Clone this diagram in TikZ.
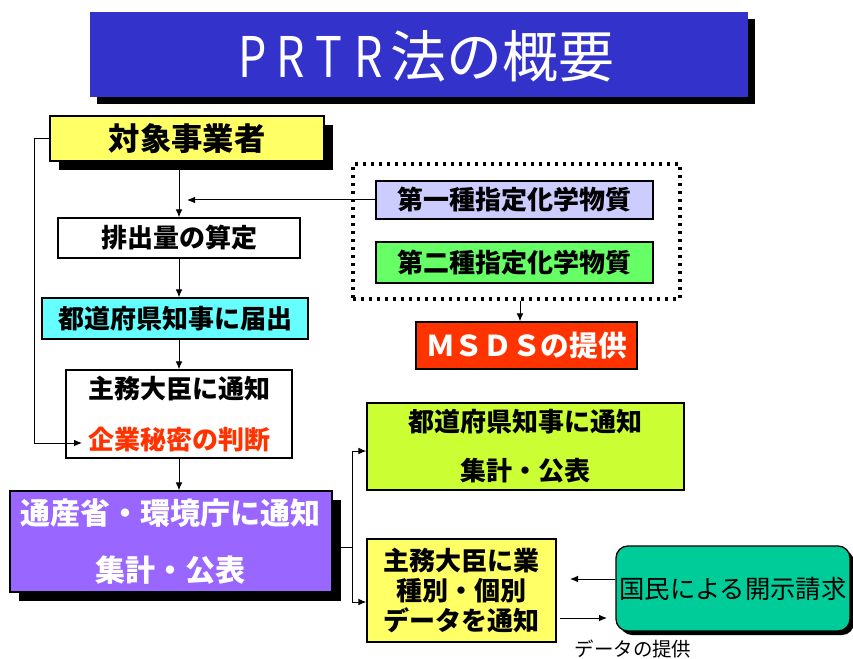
\documentclass[tikz,border=0pt]{standalone}
\usepackage{fontspec}
\usepackage{graphicx}
\setmainfont{Noto Sans CJK JP}
\usetikzlibrary{arrows.meta,shadows,calc}
\definecolor{titleblue}{HTML}{3333CC}
\definecolor{yel}{HTML}{FFFF66}
\definecolor{cyanb}{HTML}{66FFFF}
\definecolor{purp}{HTML}{9966FF}
\definecolor{lav}{HTML}{CCCCFF}
\definecolor{grn}{HTML}{66FF66}
\definecolor{redo}{HTML}{FF3300}
\definecolor{lime}{HTML}{CCFF33}
\definecolor{teal2}{HTML}{00CC99}
\newcommand{\tlet}[1]{\makebox[29pt][l]{\scalebox{0.8}[1]{#1}}}
\begin{document}
\begin{tikzpicture}[x=0.75pt,y=-0.75pt,
  box/.style={draw=black, line width=1pt, inner sep=0pt, align=center},
  sz/.style 2 args={minimum width=#1*0.75pt, minimum height=#2*0.75pt},
  shad/.style={general shadow={fill=black, shadow xshift=#1, shadow yshift=-#1}},
  fnt/.style={font=\fontsize{19.5}{#1}\selectfont\bfseries},
  arr/.style={line width=0.75pt, -{Latex[length=6pt,width=5pt]}},
  ln/.style={line width=0.75pt},
  grpbox/.style={draw=black, line width=2.5pt, dash pattern=on 2.4pt off 3.6pt, inner sep=0pt}]
\useasboundingbox (0,0) rectangle (853,659);

% title
\node[inner sep=0pt, fill=titleblue, sz={658}{85}, shad=5pt] (title) at (419,54.5) {};
\node[inner sep=0pt, text=white, font=\fontsize{42}{46}\selectfont] (titletext) at (426,56)
  {\tlet{P}\tlet{R}\tlet{T}\makebox[27pt][l]{\scalebox{0.8}[1]{R}}法の概要};

% left column
\node[box, fill=yel, sz={274}{45}, shad=6.5pt, font=\fontsize{23.5}{26}\selectfont\bfseries] (obj) at (187,138.5) {対象事業者};
\node[box, fill=white, sz={242}{40}, fnt=22] (calc) at (179,238) {排出量の算定};
\node[box, fill=cyanb, sz={266}{41}, fnt=22] (notify) at (175,318.5) {都道府県知事に届出};
\node[box, fill=white, sz={226}{88}, fnt=38] (minister) at (179,414) {主務大臣に通知\\\textcolor{redo}{企業秘密の判断}};
\node[box, fill=purp, sz={322}{101}, shad=6.5pt, text=white, font=\fontsize{22.5}{43}\selectfont\bfseries] (purple) at (171,541.5) {通産省・環境庁に通知\\集計・公表};

% chemicals
\node[grpbox, sz={327}{135}] (grp) at (516.5,231.5) {};
\node[box, fill=lav, sz={277}{38}, fnt=22] (chem1) at (514.5,200) {第一種指定化学物質};
\node[box, fill=grn, sz={277}{41}, fnt=22] (chem2) at (514.5,262.5) {第二種指定化学物質};
\node[box, fill=redo, sz={221}{47}, text=white, font=\fontsize{21.5}{24}\selectfont\bfseries] (msds) at (526.5,345.5) {ＭＳＤＳの提供};

% right lower
\node[box, fill=lime, sz={317}{87}, fnt=37] (pref) at (525.5,446.5) {都道府県知事に通知\\集計・公表};
\node[box, fill=yel, sz={189}{103}, fnt=22.5] (ind) at (461.5,590.5) {主務大臣に業\\種別・個別\\データを通知};
\node[box, fill=teal2, sz={234}{85}, rounded corners=9pt, shad=3pt, font=\fontsize{19}{22}\selectfont] (public) at (733,588.5) {国民による開示請求};
\node[inner sep=0pt, font=\fontsize{14.6}{16}\selectfont] (datalbl) at (633,649) {データの提供};

% connectors
\draw[arr] (calc.north |- obj.south) -- (calc.north);
\coordinate (j1) at (187,200);
\draw[arr] (chem1.west) -- (j1);
\draw[arr] (calc.south) -- (calc.south |- notify.north);
\draw[arr] (minister.north |- notify.south) -- (minister.north);
\draw[arr] (minister.south) -- (minister.south |- purple.north);
\coordinate (fbL) at (34,443);
\coordinate (fbE) at (82,443);
\draw[arr] (obj.west) -| (fbL) -- (fbE);
\draw[arr] ($(grp.south)+(3.5,0)$) -- ($(msds.north)+(-6.5,0)$);

\coordinate (bx) at (352,547);
\draw[ln] ($(purple.east)+(0,5.5)$) -- (bx);
\draw[arr] (bx) |- ($(pref.west)+(0,4.5)$);
\draw[arr] (bx) |- ($(ind.west)+(0,11.5)$);

\coordinate (pa) at (570,579);
\draw[arr] ($(public.west)+(0,-9.5)$) -- (pa);
\coordinate (pb1) at (560,618);
\coordinate (pb2) at (607,618);
\draw[arr] (pb1) -- (pb2);
\end{tikzpicture}
\end{document}
